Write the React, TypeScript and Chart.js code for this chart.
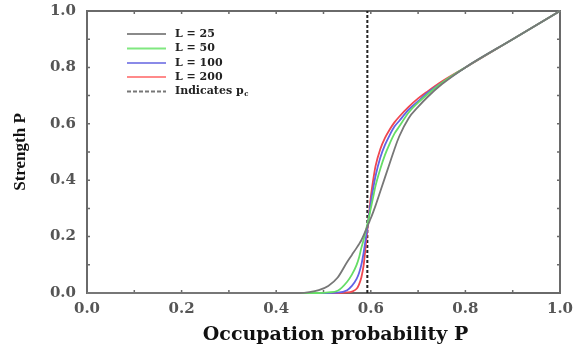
import { useEffect, useRef } from "react";
import { Chart, registerables } from "chart.js";
Chart.register(...registerables);

// Occupation probability (x) grid shared by all series
const pValues = [0, 0.3, 0.45, 0.47, 0.49, 0.51, 0.53, 0.55, 0.56, 0.57, 0.575, 0.58, 0.585, 0.59, 0.595, 0.6, 0.605, 0.61, 0.62, 0.63, 0.64, 0.65, 0.66, 0.68, 0.7, 0.72, 0.75, 0.8, 0.9, 1.0];

const strengthL25 = [0, 0, 0, 0.003, 0.01, 0.025, 0.055, 0.11, 0.135, 0.16, 0.173, 0.187, 0.205, 0.225, 0.245, 0.265, 0.287, 0.31, 0.36, 0.41, 0.46, 0.51, 0.555, 0.62, 0.66, 0.695, 0.74, 0.8, 0.9, 1.0];
const strengthL50 = [0, 0, 0, 0, 0, 0.002, 0.008, 0.04, 0.065, 0.1, 0.125, 0.16, 0.19, 0.225, 0.26, 0.3, 0.34, 0.38, 0.44, 0.49, 0.53, 0.565, 0.59, 0.64, 0.675, 0.705, 0.745, 0.8, 0.9, 1.0];
const strengthL100 = [0, 0, 0, 0, 0, 0, 0.001, 0.01, 0.025, 0.05, 0.07, 0.1, 0.145, 0.2, 0.26, 0.32, 0.37, 0.415, 0.48, 0.525, 0.56, 0.59, 0.61, 0.65, 0.68, 0.71, 0.745, 0.8, 0.9, 1.0];
const strengthL200 = [0, 0, 0, 0, 0, 0, 0, 0.002, 0.005, 0.015, 0.03, 0.055, 0.1, 0.18, 0.26, 0.34, 0.4, 0.45, 0.51, 0.55, 0.58, 0.605, 0.625, 0.66, 0.69, 0.715, 0.75, 0.8, 0.9, 1.0];

const seriesLabels = ["L = 25", "L = 50", "L = 100", "L = 200"];
const seriesColors = ["#777777", "#66dd66", "#6262e6", "#f0474f"];
const legendColors = ["#8a8a8a", "#80e880", "#8a8ae8", "#ff8a8a"];
const criticalP = 0.5927;
const xTitle = "Occupation probability P";
const yTitle = "Strength P";

const FONT = "'DejaVu Serif', 'Liberation Serif', serif";
const TIMES = "'Liberation Serif', serif";

const framePlugin = {
  id: "frame",
  beforeDatasetsDraw(chart: any) {
    const { ctx, chartArea: a, scales } = chart;
    ctx.save();
    ctx.strokeStyle = "#6a6a6a";
    ctx.lineWidth = 2;
    ctx.strokeRect(a.left, a.top, a.right - a.left, a.bottom - a.top);
    ctx.lineWidth = 1.5;
    for (let i = 1; i < 10; i++) {
      const v = i / 10;
      const x = scales.x.getPixelForValue(v);
      const y = scales.y.getPixelForValue(v);
      ctx.beginPath();
      ctx.moveTo(x, a.bottom); ctx.lineTo(x, a.bottom - 3);
      ctx.moveTo(x, a.top); ctx.lineTo(x, a.top + 3);
      ctx.moveTo(a.left, y); ctx.lineTo(a.left + 3, y);
      ctx.moveTo(a.right, y); ctx.lineTo(a.right - 3, y);
      ctx.stroke();
    }
    // x axis title
    ctx.font = `bold 19px ${FONT}`;
    ctx.fillStyle = "#111";
    ctx.textAlign = "center";
    ctx.textBaseline = "middle";
    ctx.fillText(xTitle, (a.left + a.right) / 2 + 12, 335);
    ctx.restore();
  },
};

const legendPlugin = {
  id: "insideLegend",
  afterDatasetsDraw(chart: any) {
    const { ctx } = chart;
    ctx.save();
    const x0 = 127, x1 = 166, tx = 175;
    const rows = [34, 48.5, 63, 77, 91.5];
    ctx.textBaseline = "middle";
    ctx.fillStyle = "#222";
    for (let i = 0; i < 5; i++) {
      ctx.font = `bold 11px ${FONT}`;
      ctx.beginPath();
      ctx.lineWidth = 2;
      if (i < 4) {
        ctx.strokeStyle = legendColors[i];
        ctx.setLineDash([]);
      } else {
        ctx.strokeStyle = "#777";
        ctx.setLineDash([4, 2]);
      }
      ctx.moveTo(x0, rows[i]);
      ctx.lineTo(x1, rows[i]);
      ctx.stroke();
      if (i < 4) {
        ctx.fillText(seriesLabels[i], tx, rows[i]);
      } else {
        const t = "Indicates p";
        ctx.fillText(t, tx, rows[i]);
        const w = ctx.measureText(t).width;
        ctx.font = `bold 7px ${FONT}`;
        ctx.fillText("c", tx + w + 0.5, rows[i] + 3);
      }
    }
    ctx.restore();
  },
};

export default function App() {
  const ref = useRef<HTMLCanvasElement | null>(null);
  useEffect(() => {
    if (!ref.current) return;
    const seriesValues = [strengthL25, strengthL50, strengthL100, strengthL200];
    const datasets: any[] = seriesValues.map((vals, i) => ({
      label: seriesLabels[i],
      data: pValues.map((p, j) => ({ x: p, y: vals[j] })),
      borderColor: seriesColors[i],
      borderWidth: 1.8,
      pointRadius: 0,
      cubicInterpolationMode: "monotone",
      clip: 4,
    }));
    datasets.push({
      label: "Indicates pc",
      data: [{ x: criticalP, y: 0 }, { x: criticalP, y: 1 }],
      borderColor: "#222",
      borderWidth: 2,
      borderDash: [3, 2],
      pointRadius: 0,
      clip: 4,
    });
    const hiddenGrid = {
      display: true,
      drawOnChartArea: false,
      drawTicks: true,
      color: "rgba(0,0,0,0)",
    };
    const chart = new Chart(ref.current, {
      type: "line",
      data: { datasets },
      options: {
        animation: false,
        responsive: false,
        layout: { padding: { top: 11, right: 20, left: 0, bottom: 0 } },
        plugins: { legend: { display: false }, tooltip: { enabled: false } },
        scales: {
          x: {
            type: "linear",
            min: 0,
            max: 1,
            grid: { ...hiddenGrid, tickLength: 5 },
            border: { display: false },
            ticks: {
              stepSize: 0.2,
              padding: 2,
              color: "#555",
              font: { family: FONT, weight: "bold", size: 15 },
              callback: (v: any) => Number(v).toFixed(1),
            },
            afterFit: (s: any) => { s.height = 59; },
          },
          y: {
            type: "linear",
            min: 0,
            max: 1,
            grid: { ...hiddenGrid, tickLength: 10 },
            border: { display: false },
            ticks: {
              stepSize: 0.2,
              padding: 1,
              color: "#555",
              font: { family: FONT, weight: "bold", size: 15 },
              callback: (v: any) => Number(v).toFixed(1),
            },
            title: {
              display: true,
              text: yTitle,
              color: "#111",
              font: { family: TIMES, weight: "bold", size: 17 },
              padding: { top: 10, bottom: 0 },
            },
            afterFit: (s: any) => { s.width = 87; },
          },
        },
      } as any,
      plugins: [framePlugin, legendPlugin],
    });
    return () => chart.destroy();
  }, []);
  return (
    <div style={{ position: "absolute", left: 0, top: 0, width: 580, height: 352, background: "#fff" }}>
      <canvas ref={ref} width={580} height={352} style={{ display: "block" }} />
    </div>
  );
}
